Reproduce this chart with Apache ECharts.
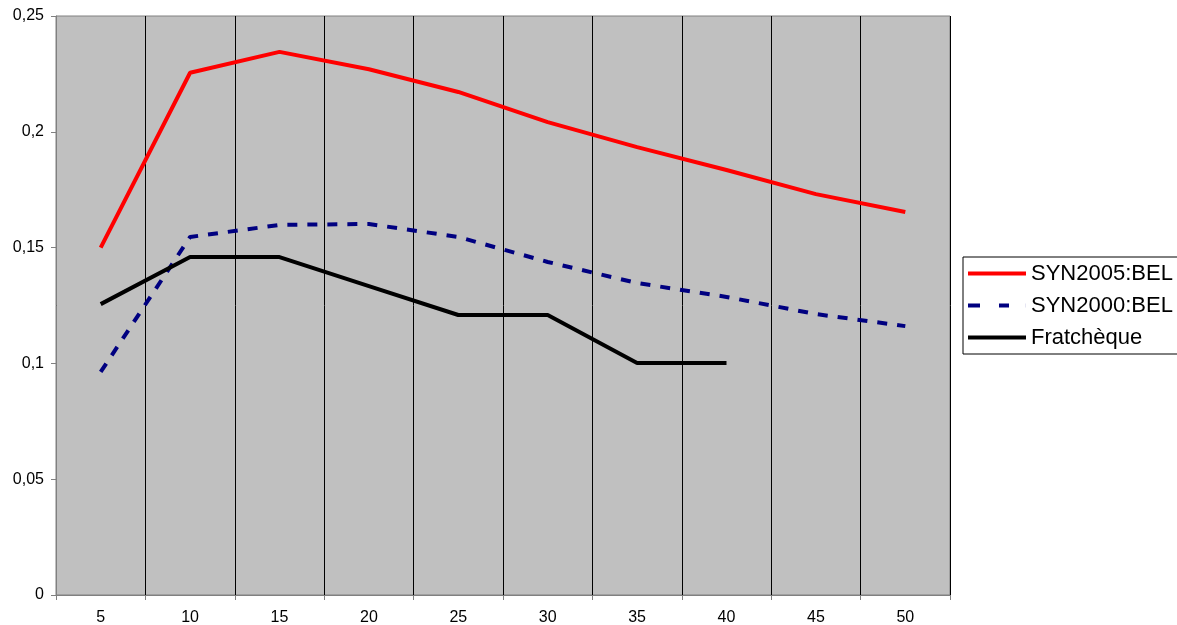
<!DOCTYPE html>
<html>
<head>
<meta charset="utf-8">
<script src="https://cdn.jsdelivr.net/npm/echarts@6/dist/echarts.min.js"></script>
<style>html,body{margin:0;padding:0;background:#fff;}#c{width:1177px;height:625px;}</style>
</head>
<body>
<div id="c"></div>
<script>
const categories = ['5','10','15','20','25','30','35','40','45','50'];
const syn2005 = [0.150, 0.2255, 0.2345, 0.2270, 0.2172, 0.2042, 0.1934, 0.1835, 0.1731, 0.1654];
const syn2000 = [0.0963, 0.1546, 0.1598, 0.1602, 0.1546, 0.1438, 0.1347, 0.1287, 0.1213, 0.1161];
const fratcheque = [0.1256, 0.1459, 0.1459, 0.1334, 0.1209, 0.1209, 0.1002, 0.1002, null, null];
const yTicks = {min: 0, max: 0.25, interval: 0.05};

const chart = echarts.init(document.getElementById('c'), null, {renderer: 'canvas'});
const font = 'Liberation Sans, Arial, sans-serif';
const solidIcon = 'path://M0,0h58v4h-58z';
const dashIcon = 'path://M0,0h12v4h-12z M31,0h10v4h-10z M57.9,0h0.1v4h-0.1z';
chart.setOption({
  animation: false,
  textStyle: {fontFamily: font},
  grid: {left: 56, right: 227, top: 16, bottom: 30, containLabel: false, outerBoundsMode: 'none',
         show: true, backgroundColor: '#C0C0C0', borderColor: '#808080', borderWidth: 1},
  legend: {
    orient: 'vertical', left: 963, top: 257,
    backgroundColor: '#fff', borderColor: '#000', borderWidth: 1,
    padding: [4, 40, 4, 5], itemGap: 7, itemWidth: 58, itemHeight: 4,
    textStyle: {fontFamily: font, fontSize: 22, color: '#000', padding: [0, 0, 0, 0], lineHeight: 25},
    data: [
      {name: 'SYN2005:BEL', icon: solidIcon},
      {name: 'SYN2000:BEL', icon: dashIcon},
      {name: 'Fratchèque', icon: solidIcon}
    ]
  },
  xAxis: {
    type: 'category', data: categories, boundaryGap: true,
    axisLine: {lineStyle: {color: '#808080', width: 1}},
    axisTick: {show: true, length: 5, lineStyle: {color: '#808080'}},
    axisLabel: {color: '#000', fontSize: 16, margin: 15, fontFamily: font},
    splitLine: {show: true, lineStyle: {color: '#000', width: 1}}
  },
  yAxis: {
    type: 'value', min: yTicks.min, max: yTicks.max, interval: yTicks.interval,
    axisLine: {show: true, lineStyle: {color: '#808080', width: 1}},
    axisTick: {show: true, length: 5, lineStyle: {color: '#808080'}},
    axisLabel: {color: '#000', fontSize: 16, margin: 12, fontFamily: font,
      formatter: v => v === 0 ? '0' : String(+v.toFixed(2)).replace('.', ',')},
    splitLine: {show: false}
  },
  series: [
    {name: 'SYN2005:BEL', type: 'line', data: syn2005, symbol: 'none',
     lineStyle: {color: '#FF0000', width: 4}, itemStyle: {color: '#FF0000'}},
    {name: 'SYN2000:BEL', type: 'line', data: syn2000, symbol: 'none',
     lineStyle: {color: '#000080', width: 4, type: [10, 10]}, itemStyle: {color: '#000080'}},
    {name: 'Fratchèque', type: 'line', data: fratcheque, symbol: 'none',
     lineStyle: {color: '#000', width: 4}, itemStyle: {color: '#000'}}
  ]
});
</script>
</body>
</html>
